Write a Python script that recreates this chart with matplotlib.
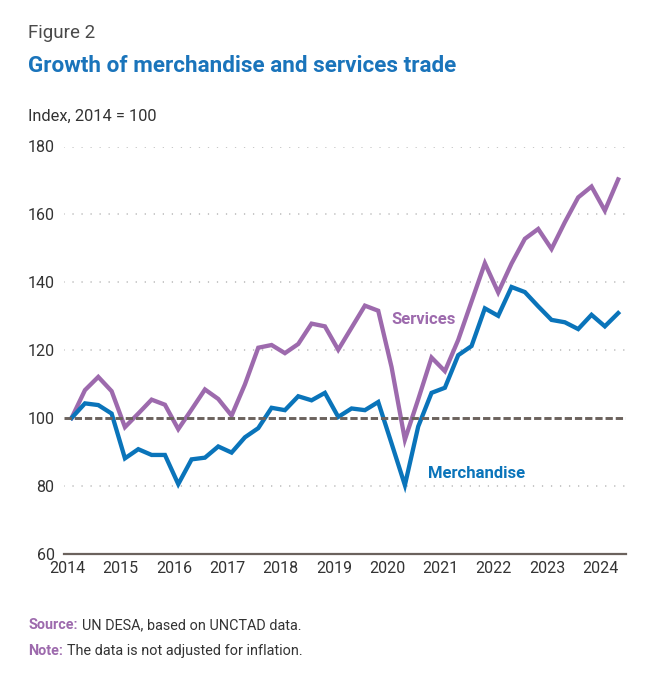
import matplotlib
matplotlib.use("Agg")
import matplotlib.pyplot as plt
import numpy as np

plt.rcParams['font.family'] = ['Roboto', 'DejaVu Sans']

# Quarterly data, 2014 Q1 .. 2024 Q2
start_year = 2014
n_quarters = 42
services = [100.0, 108.2, 112.1, 107.9, 97.3, 101.3, 105.4, 103.9,
            96.7, 102.5, 108.4, 105.6, 100.7, 109.9, 120.7, 121.5,
            119.1, 121.8, 127.8, 127.0, 120.1, 126.6, 133.1, 131.6,
            115.0, 93.6, 105.5, 117.8, 113.8, 123.0, 134.3, 145.6,
            137.0, 145.5, 152.8, 155.7, 149.8, 157.7, 165.0, 168.2,
            161.1, 170.3]
merchandise = [100.0, 104.3, 103.8, 101.3, 88.1, 90.8, 89.1, 89.1,
               80.5, 87.8, 88.3, 91.6, 89.8, 94.3, 97.0, 103.0,
               102.3, 106.4, 105.2, 107.4, 100.3, 102.8, 102.3, 104.7,
               92.5, 80.2, 97.5, 107.4, 108.9, 118.5, 121.2, 132.3,
               130.1, 138.6, 137.1, 132.9, 128.9, 128.2, 126.2, 130.4,
               127.0, 130.9]
year_ticks = list(range(2014, 2025))
y_ticks = [60, 80, 100, 120, 140, 160, 180]

# x position: year + month offset of each quarter
quarter_month = [1, 4, 7, 10]
x = np.array([start_year + i // 4 + quarter_month[i % 4] / 12 for i in range(n_quarters)])

C_SERV = '#9d6aad'
C_MERCH = '#0a74ba'
C_AXIS = '#6b625d'
C_TEXT = '#333333'

W, H = 658, 684
fig = plt.figure(figsize=(W / 100, H / 100), dpi=100)
ax = fig.add_axes([64.3 / W, 1 - 553.7 / H, (626 - 64.3) / W, (553.7 - 146.5) / H])

ax.set_xlim(2014 - 0.054, 2024.48)
ax.set_ylim(60, 180)

for yv in [80, 120, 140, 160, 180]:
    ax.axhline(yv, color='#a8a8a8', lw=1.1, dashes=(0.01, 5.9), zorder=1,
               dash_capstyle='round')

ax.plot(x, services, color=C_SERV, lw=3.1, solid_joinstyle='miter', zorder=3)
ax.plot(x, merchandise, color=C_MERCH, lw=3.1, solid_joinstyle='miter', zorder=3)
ax.axhline(100, color=C_AXIS, lw=2.1, dashes=(2.5, 1.0), zorder=4)

for s in ['top', 'right', 'left']:
    ax.spines[s].set_visible(False)
ax.spines['bottom'].set_color(C_AXIS)
ax.spines['bottom'].set_linewidth(1.6)

ax.set_xticks(year_ticks)
ax.set_xticklabels([str(y) for y in year_ticks])
ax.set_yticks(y_ticks)
ax.set_yticklabels([str(v) for v in y_ticks])
ax.tick_params(axis='both', length=0, labelsize=11.5, labelcolor=C_TEXT)
ax.tick_params(axis='y', pad=7)
ax.tick_params(axis='x', pad=5)

ax.text(2020.085, 127.7, 'Services', color=C_SERV, fontsize=12, fontweight='bold',
        ha='left', va='baseline')
ax.text(2020.76, 82.3, 'Merchandise', color=C_MERCH, fontsize=12, fontweight='bold',
        ha='left', va='baseline')

fx = 28.3 / W
fig.text(fx, 1 - 37.7 / H, 'Figure 2', fontsize=13.5, color='#4a4a4a', va='baseline')
fig.text(fx, 1 - 72.3 / H, 'Growth of merchandise and services trade', fontsize=16.2,
         fontweight='bold', color='#1a74bb', va='baseline')
fig.text(fx, 1 - 120.7 / H, 'Index, 2014 = 100', fontsize=11.8, color=C_TEXT, va='baseline')

t1 = fig.text(fx, 1 - 629.3 / H, 'Source:', fontsize=10.4, fontweight='bold', color=C_SERV,
              va='baseline')
fig.canvas.draw()
bb = t1.get_window_extent()
fig.text((bb.x1 + 4) / W, 1 - 629.3 / H, 'UN DESA, based on UNCTAD data.', fontsize=10.4,
         color=C_TEXT, va='baseline')
t2 = fig.text(fx, 1 - 655 / H, 'Note:', fontsize=10.4, fontweight='bold', color=C_SERV,
              va='baseline')
fig.canvas.draw()
bb = t2.get_window_extent()
fig.text((bb.x1 + 4) / W, 1 - 655 / H, 'The data is not adjusted for inflation.', fontsize=10.4,
         color=C_TEXT, va='baseline')

fig.savefig('out.png', dpi=100)
